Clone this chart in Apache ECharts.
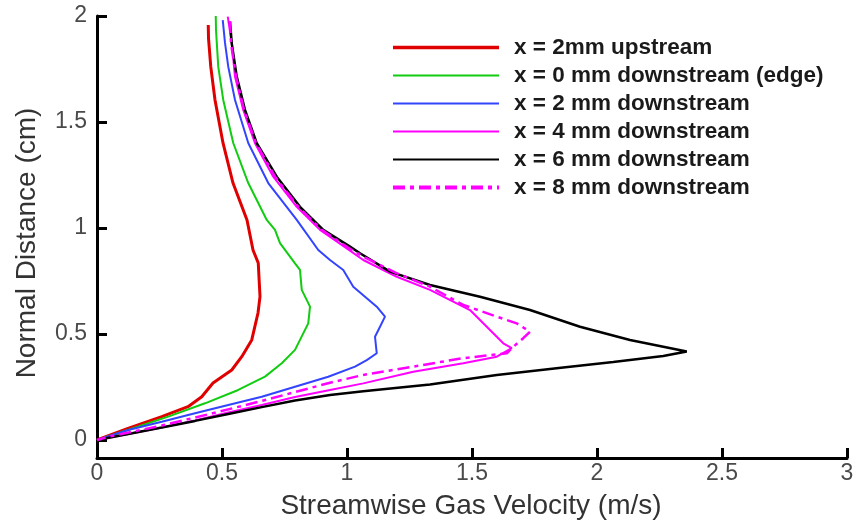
<!DOCTYPE html>
<html>
<head>
<meta charset="utf-8">
<script src="https://cdn.jsdelivr.net/npm/echarts@6/dist/echarts.min.js"></script>
<style>
  html, body { margin: 0; padding: 0; background: #fff; }
  #chart { width: 854px; height: 529px; }
</style>
</head>
<body>
<div id="chart"></div>
<script>
// Velocity profiles: [streamwise velocity (m/s), normal distance (cm)]
const seriesNames = [
  'x = 2mm upstream',
  'x = 0 mm downstream (edge)',
  'x = 2 mm downstream',
  'x = 4 mm downstream',
  'x = 6 mm downstream',
  'x = 8 mm downstream'
];

const upstream2mm = [
  [0.445,1.958],[0.446,1.896],[0.455,1.761],[0.472,1.604],[0.504,1.401],
  [0.544,1.212],[0.600,1.038],[0.624,0.896],[0.645,0.835],[0.652,0.676],
  [0.644,0.599],[0.619,0.472],[0.579,0.393],[0.539,0.330],[0.464,0.269],
  [0.419,0.204],[0.364,0.157],[0.259,0.110],[0.124,0.055],[0,0]
];

const downstream0mm = [
  [0.475,2.000],[0.476,1.934],[0.485,1.761],[0.505,1.604],[0.545,1.401],
  [0.605,1.212],[0.679,1.038],[0.712,0.991],[0.732,0.929],[0.792,0.833],
  [0.812,0.802],[0.819,0.708],[0.852,0.629],[0.845,0.550],[0.792,0.425],
  [0.739,0.362],[0.672,0.299],[0.565,0.236],[0.432,0.173],[0.285,0.110],
  [0.124,0.047],[0,0]
];

const downstream2mm = [
  [0.503,1.981],[0.512,1.873],[0.525,1.761],[0.552,1.604],[0.605,1.401],
  [0.685,1.212],[0.799,1.038],[0.885,0.896],[0.932,0.849],[0.985,0.802],
  [1.025,0.723],[1.119,0.629],[1.152,0.582],[1.132,0.534],[1.112,0.487],
  [1.119,0.409],[1.079,0.377],[1.032,0.346],[0.925,0.298],[0.792,0.251],
  [0.659,0.204],[0.525,0.165],[0.392,0.126],[0.259,0.086],[0.125,0.047],[0,0]
];

const downstream4mm = [
  [0.523,1.997],[0.539,1.871],[0.552,1.714],[0.585,1.557],[0.632,1.400],
  [0.705,1.242],[0.799,1.100],[0.892,0.991],[0.999,0.904],[1.065,0.849],
  [1.199,0.770],[1.332,0.708],[1.492,0.613],[1.559,0.534],[1.625,0.456],
  [1.659,0.433],[1.599,0.393],[1.465,0.362],[1.265,0.322],[1.065,0.267],
  [0.932,0.236],[0.792,0.203],[0.659,0.165],[0.525,0.130],[0.392,0.092],
  [0.259,0.059],[0.125,0.028],[0,0]
];

const downstream6mm = [
  [0.532,1.973],[0.539,1.871],[0.559,1.714],[0.592,1.557],[0.639,1.400],
  [0.719,1.242],[0.812,1.100],[0.905,0.991],[1.012,0.912],[1.052,0.881],
  [1.172,0.794],[1.332,0.731],[1.532,0.676],[1.732,0.613],[1.932,0.534],
  [2.132,0.472],[2.359,0.417],[2.265,0.396],[2.065,0.368],[1.865,0.342],
  [1.599,0.307],[1.332,0.262],[1.065,0.230],[0.932,0.212],[0.792,0.186],
  [0.659,0.155],[0.525,0.123],[0.392,0.090],[0.259,0.059],[0.125,0.028],[0,0]
];

const downstream8mm = [
  [0.532,1.976],[0.536,1.871],[0.556,1.714],[0.588,1.557],[0.636,1.400],
  [0.712,1.242],[0.805,1.100],[0.899,0.991],[1.004,0.908],[1.060,0.868],
  [1.196,0.788],[1.332,0.723],[1.465,0.637],[1.599,0.582],[1.679,0.550],
  [1.732,0.511],[1.705,0.480],[1.659,0.433],[1.639,0.409],[1.465,0.386],
  [1.265,0.346],[1.065,0.307],[0.932,0.270],[0.792,0.226],[0.659,0.184],
  [0.459,0.125],[0.259,0.068],[0.059,0.019],[0,0]
];

const yTickValues = [0, 0.5, 1, 1.5, 2];

const profiles = [upstream2mm, downstream0mm, downstream2mm, downstream4mm, downstream6mm, downstream8mm];
const colors = ['#e00000', '#11cc11', '#3344ff', '#ff00ff', '#000000', '#ff00ff'];
const widths = [3, 2, 2, 2, 2.5, 2.5];
const dashTypes = ['solid', 'solid', 'solid', 'solid', 'solid', [12, 5, 4, 5]];
const legendWidths = [3.5, 2, 2, 2, 2, 4];

const FONT = '"Liberation Sans", Arial, sans-serif';

const chart = echarts.init(document.getElementById('chart'), null, { renderer: 'canvas' });

const series = profiles.map((data, i) => ({
  name: seriesNames[i],
  type: 'line',
  data: data,
  symbol: 'none',
  showSymbol: false,
  smooth: false,
  z: 2 + i,
  lineStyle: { color: colors[i], width: widths[i], type: dashTypes[i] },
  itemStyle: { color: colors[i] }
}));

const axisLineStyle = { color: '#000', width: 3 };

chart.setOption({
  animation: false,
  backgroundColor: '#fff',
  grid: { left: 97, right: 7, top: 16, bottom: 71, containLabel: false, outerBoundsMode: 'none' },
  xAxis: {
    type: 'value',
    min: 0, max: 3, interval: 0.5,
    axisLine: { show: true, onZero: false, lineStyle: axisLineStyle },
    axisTick: { show: true, inside: true, length: 10, lineStyle: { color: '#000', width: 3 } },
    axisLabel: { color: '#4a4a4a', fontSize: 23, fontFamily: FONT, margin: 4 },
    splitLine: { show: false }
  },
  yAxis: {
    type: 'value',
    min: -0.085, max: 2,
    axisLine: { show: true, onZero: false, lineStyle: axisLineStyle },
    axisTick: { show: true, inside: true, length: 10, customValues: yTickValues, lineStyle: { color: '#000', width: 3 } },
    axisLabel: { color: '#4a4a4a', fontSize: 23, fontFamily: FONT, margin: 10, customValues: yTickValues },
    splitLine: { show: false }
  },
  legend: {
    orient: 'vertical',
    left: 386,
    top: 31,
    itemWidth: 106,
    itemHeight: 20,
    itemGap: 5,
    selectedMode: false,
    // plain line keys, no marker in the middle
    itemStyle: { color: 'rgba(0,0,0,0)', borderWidth: 0, opacity: 0 },
    data: seriesNames.map((n, i) => ({
      name: n,
      lineStyle: { color: colors[i], width: legendWidths[i], type: dashTypes[i], opacity: 1 }
    })),
    textStyle: {
      color: '#1a1a1a', fontSize: 22.5, fontWeight: 'bold', fontFamily: FONT,
      padding: [0, 0, 0, 10]
    }
  },
  graphic: [
    {
      type: 'text',
      x: 471, y: 506,
      style: {
        text: 'Streamwise Gas Velocity (m/s)',
        font: '28px ' + FONT,
        fill: '#333',
        textAlign: 'center',
        textVerticalAlign: 'middle'
      }
    },
    {
      type: 'text',
      x: 27, y: 243,
      rotation: Math.PI / 2,
      style: {
        text: 'Normal Distance (cm)',
        font: '28px ' + FONT,
        fill: '#333',
        textAlign: 'center',
        textVerticalAlign: 'middle'
      }
    }
  ],
  series: series
});
</script>
</body>
</html>
